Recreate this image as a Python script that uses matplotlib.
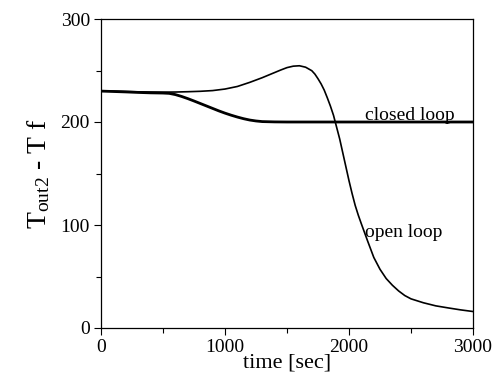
import matplotlib
matplotlib.use("Agg")
import matplotlib.pyplot as plt
from matplotlib.ticker import MultipleLocator

plt.rcParams['font.family'] = ['Liberation Serif', 'DejaVu Serif']
plt.rcParams['mathtext.fontset'] = 'custom'
plt.rcParams['mathtext.rm'] = 'Liberation Serif'
plt.rcParams['mathtext.it'] = 'Liberation Serif:italic'

# open loop response
t_open = [0, 100, 200, 300, 400, 500, 600, 700, 800, 900, 1000, 1100, 1200,
          1300, 1400, 1450, 1500, 1550, 1600, 1650, 1700, 1725, 1750, 1775, 1800,
          1825, 1850, 1875, 1900, 1925, 1950, 1975, 2000, 2025, 2050, 2075, 2100,
          2150, 2200, 2250, 2300, 2350, 2400, 2450, 2500, 2600, 2700, 2800, 2900, 3000]
v_open = [230, 230, 229.6, 229.3, 229.1, 229, 229.1, 229.4, 229.8, 230.5, 232, 234.5, 238.5,
          243, 248, 250.5, 252.8, 254.2, 254.6, 253.2, 249.8, 246.5, 242, 237, 231,
          223.5, 215.5, 206.5, 195, 183.5, 170, 156.5, 143, 130.5, 119, 109.5, 101,
          84.5, 68.5, 57, 48, 41.5, 36, 31.5, 28.3, 24.5, 21.5, 19.5, 17.6, 16]

# closed loop response
t_closed = [0, 100, 200, 300, 400, 500, 550, 600, 650, 700, 750, 800, 850, 900, 950,
            1000, 1050, 1100, 1150, 1200, 1250, 1300, 1400, 1500, 2000, 2500, 3000]
v_closed = [230, 229.6, 229.2, 228.7, 228.3, 228.1, 227.8, 226.6, 224.8, 222.7, 220.4, 218, 215.6, 213.2, 210.8,
            208.6, 206.6, 204.8, 203.2, 201.9, 201, 200.4, 200.1, 200, 200, 200, 200]

fig = plt.figure(figsize=(4.98, 3.8), dpi=100)
ax = fig.add_axes([101/498, 1-328/380, 372/498, 309/380])

ax.plot(t_open, v_open, color='black', lw=1.2)
ax.plot(t_closed, v_closed, color='black', lw=2.0)

ax.set_xlim(0, 3000)
ax.set_ylim(0, 300)
ax.xaxis.set_major_locator(MultipleLocator(1000))
ax.xaxis.set_minor_locator(MultipleLocator(500))
ax.yaxis.set_major_locator(MultipleLocator(100))
ax.yaxis.set_minor_locator(MultipleLocator(50))
ax.tick_params(which='major', direction='out', length=5, width=0.8, labelsize=14, pad=3)
ax.tick_params(which='minor', direction='out', length=3.5, width=0.8)
for s in ax.spines.values():
    s.set_linewidth(0.9)

ax.set_xlabel('time [sec]', fontsize=16, labelpad=-2)
ax.set_ylabel(r'T$_{\rm out2}$ - T f', fontsize=20, labelpad=6)

ax.text(2129, 202, 'closed loop', fontsize=14, ha='left', va='baseline')
ax.text(2129, 88, 'open loop', fontsize=14, ha='left', va='baseline')

fig.savefig('out.png', dpi=100)
